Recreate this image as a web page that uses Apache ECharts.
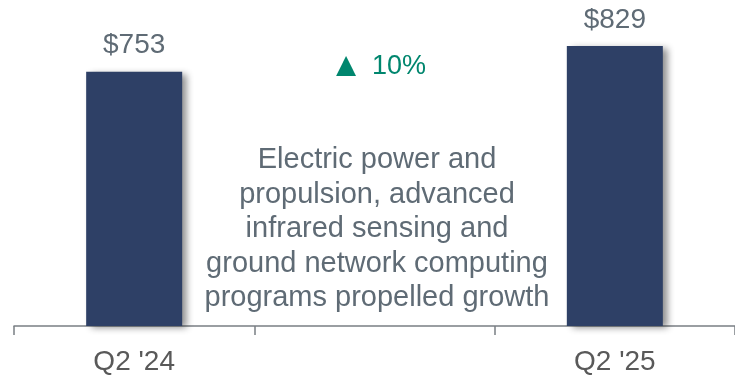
<!DOCTYPE html>
<html>
<head>
<meta charset="utf-8">
<script src="https://cdn.jsdelivr.net/npm/echarts@6/dist/echarts.min.js"></script>
<style>
  html, body { margin: 0; padding: 0; background: #ffffff; }
  #chart { width: 735px; height: 377px; }
</style>
</head>
<body>
<div id="chart"></div>
<script>
// Quarterly revenue ($M): two reported quarters with a spacer slot between them
const categories = ["Q2 '24", "", "Q2 '25"];
const revenue = [753, null, 829];
const valueLabels = ["$753", "", "$829"];
const growthArrow = "▲";
const growthText = "10%";
const noteLines = [
  "Electric power and",
  "propulsion, advanced",
  "infrared sensing and",
  "ground network computing",
  "programs propelled growth"
];

const FONT = "'Liberation Sans', Arial, sans-serif";
const GREEN = '#00866e';
const chart = echarts.init(document.getElementById('chart'));

chart.setOption({
  animation: false,
  backgroundColor: '#ffffff',
  grid: { left: 14, right: -2, top: 22, bottom: 51, containLabel: false },
  xAxis: {
    type: 'category',
    data: categories,
    boundaryGap: true,
    axisLine: { show: true, lineStyle: { color: '#7a7f84', width: 1.5 } },
    axisTick: { show: true, length: 9, alignWithLabel: false, lineStyle: { color: '#7a7f84', width: 1.5 } },
    axisLabel: { color: '#595959', fontFamily: FONT, fontSize: 28, margin: 22 }
  },
  yAxis: {
    type: 'value',
    min: 0,
    max: 900,
    show: false,
    splitLine: { show: false }
  },
  series: [{
    type: 'bar',
    data: revenue,
    barWidth: 96,
    itemStyle: {
      color: '#2e4066',
      shadowColor: 'rgba(0,0,0,0.45)',
      shadowBlur: 7,
      shadowOffsetX: 5,
      shadowOffsetY: 2
    },
    label: {
      show: true,
      position: 'top',
      distance: 12,
      color: '#5f6b75',
      fontFamily: FONT,
      fontSize: 28,
      formatter: p => valueLabels[p.dataIndex]
    }
  }],
  graphic: [
    {
      type: 'text',
      x: 346,
      y: 67,
      style: {
        text: growthArrow,
        fill: GREEN,
        font: '34px ' + FONT,
        align: 'center',
        verticalAlign: 'middle'
      }
    },
    {
      type: 'text',
      x: 372,
      y: 67,
      style: {
        text: growthText,
        fill: GREEN,
        font: '27px ' + FONT,
        align: 'left',
        verticalAlign: 'middle'
      }
    },
    {
      type: 'text',
      x: 377,
      y: 143,
      style: {
        text: noteLines.join('\n'),
        fill: '#5f6b75',
        font: '29px ' + FONT,
        align: 'center',
        lineHeight: 34.5
      }
    }
  ]
});
</script>
</body>
</html>
